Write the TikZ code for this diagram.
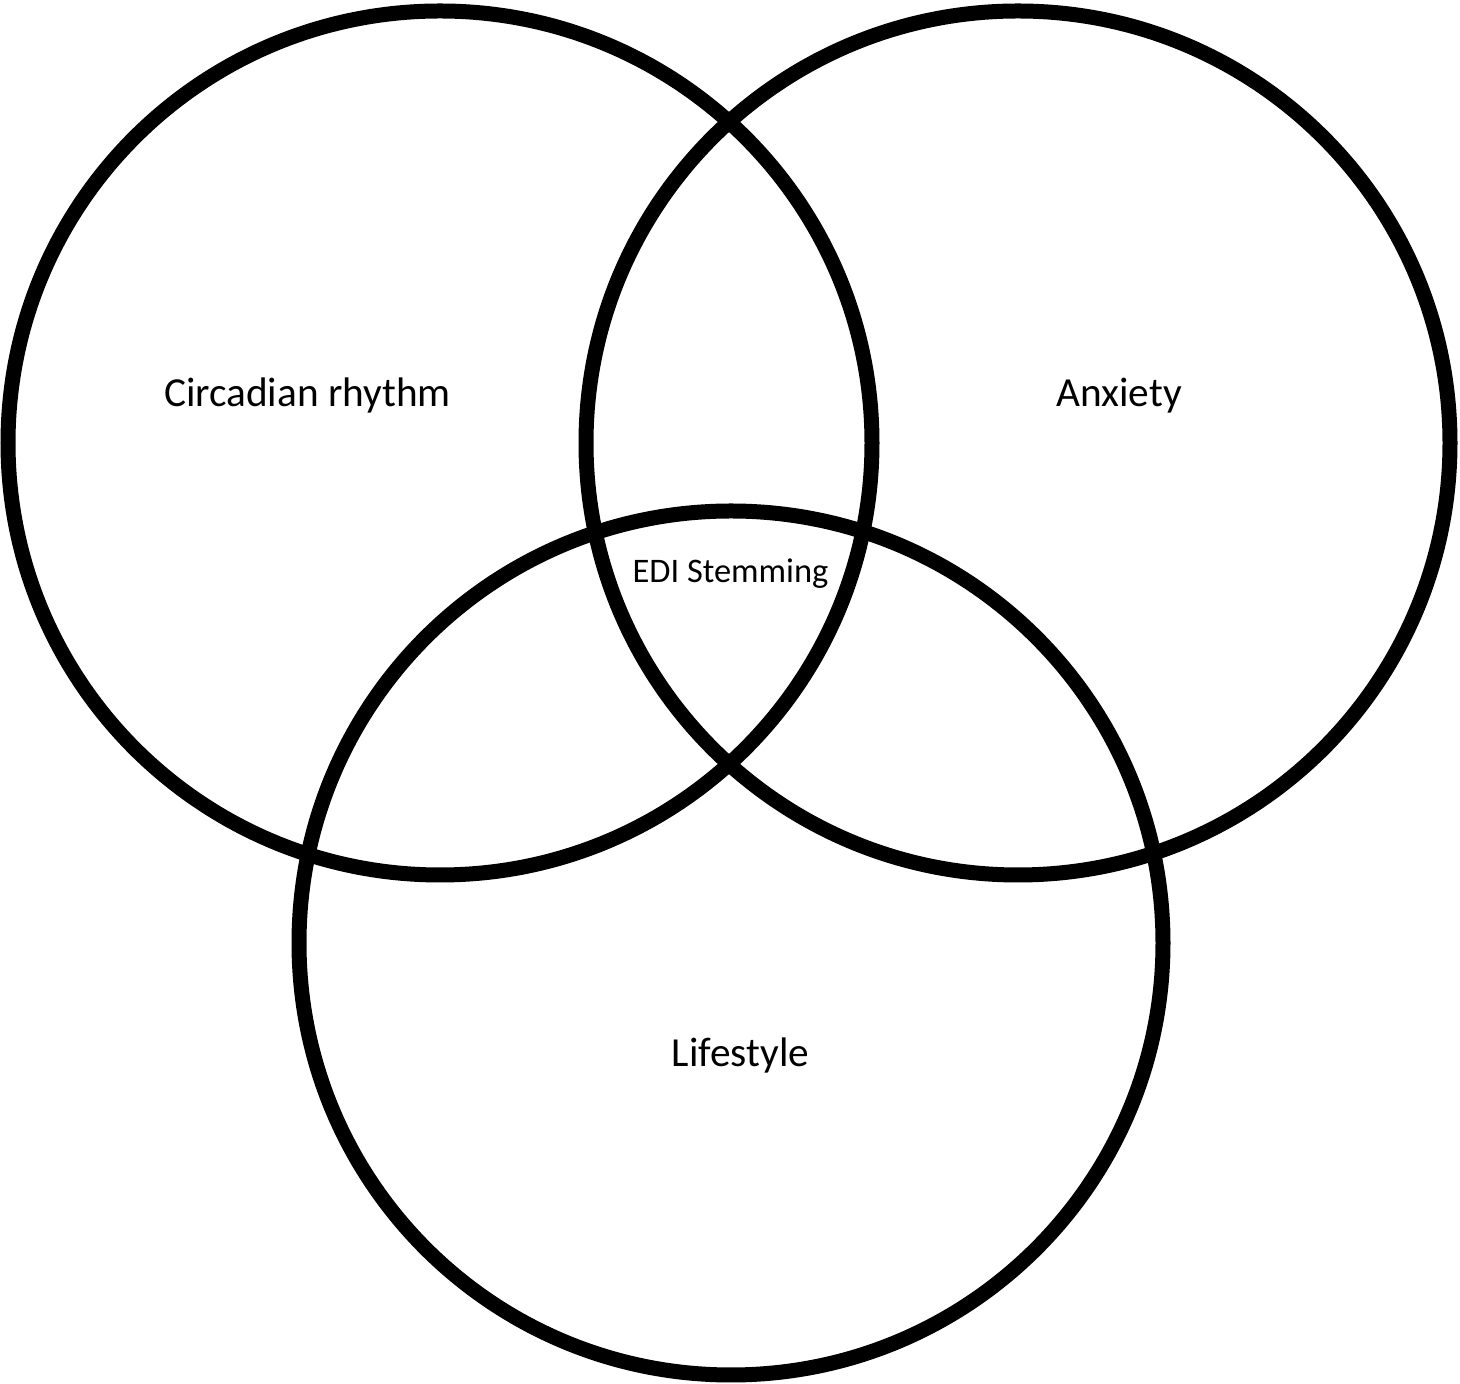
\documentclass[tikz,border=0pt]{standalone}
\usepackage{fontspec}
\setmainfont{Carlito}
\begin{document}
\begin{tikzpicture}[vennset/.style = {circle, draw, line width=0.3cm,
    minimum size=17.28cm, inner sep=0pt},
setlabel/.style = {anchor=base, font=\fontsize{23.5}{28}\selectfont}]
\useasboundingbox (0,0) rectangle (29.2,27.68);
\node[vennset] (circadian) at (8.80,18.82) {};
\node[vennset] (anxiety) at (20.36,18.82) {};
\node[vennset] (lifestyle) at (14.62,8.82) {};
\node[setlabel] (circadianlabel) at (6.15,19.54) {Circadian rhythm};
\node[setlabel] (anxietylabel) at (22.38,19.54) {Anxiety};
\node[setlabel] (lifestylelabel) at (14.81,6.34) {Lifestyle};
\node[setlabel, font=\fontsize{19.6}{24}\selectfont] (edi) at (14.61,16.02) {EDI Stemming};
\end{tikzpicture}
\end{document}
